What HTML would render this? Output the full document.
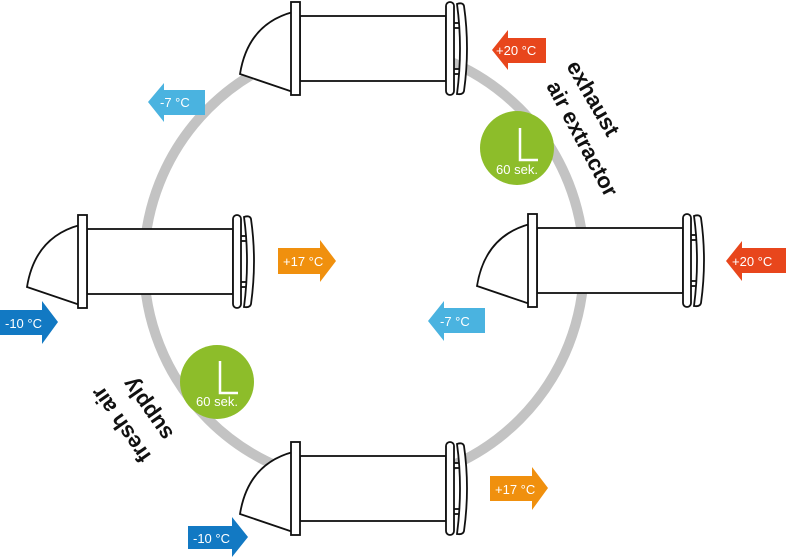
<!DOCTYPE html>
<html><head><meta charset="utf-8"><style>
html,body{margin:0;padding:0;background:#fff;}
svg{display:block;font-family:"Liberation Sans",sans-serif;}
.t{fill:#fff;font-size:13px;}
.lbl{font-weight:bold;font-size:22px;fill:#111;}
</style></head><body>
<svg width="786" height="560" viewBox="0 0 786 560">
<defs>
<g id="u" fill="#fff" stroke="#111" stroke-width="1.8">
  <path d="M53,10 Q8,22 0,72 L53,90 Z"/>
  <rect x="60" y="14" width="146" height="65"/>
  <rect x="51" y="0" width="9" height="93"/>
  <rect x="209" y="21" width="12" height="5"/>
  <rect x="209" y="67" width="12" height="5"/>
  <rect x="206" y="0" width="8" height="93" rx="4"/>
  <path d="M217,2 Q223,0 224,4 Q230,46 224,89 Q223,93 217,92 Q223,46 217,2 Z"/>
</g>
</defs>
<circle cx="364" cy="264" r="220" fill="none" stroke="#c3c3c3" stroke-width="10"/>
<use href="#u" x="240" y="2"/>
<use href="#u" x="27" y="215"/>
<use href="#u" x="477" y="214"/>
<use href="#u" x="240" y="442"/>
<g fill="#e8461c"><path d="M508,38 H546 V63 H508 V70 L492,50 L508,30 Z"/></g>
<text class="t" x="496" y="55">+20 °C</text>
<g fill="#4ab3e0"><path d="M164,90 H205 V115 H164 V122 L148,102 L164,83 Z"/></g>
<text class="t" x="160" y="107">-7 °C</text>
<g fill="#e8461c"><path d="M742,248 H786 V273 H742 V281 L726,261 L742,241 Z"/></g>
<text class="t" x="732" y="266">+20 °C</text>
<g fill="#4ab3e0"><path d="M444,308 H485 V333 H444 V341 L428,321 L444,301 Z"/></g>
<text class="t" x="440" y="326">-7 °C</text>
<g fill="#f0900e"><path d="M278,248 H320 V240 L336,261 L320,282 V274 H278 Z"/></g>
<text class="t" x="283" y="266">+17 °C</text>
<g fill="#1279c3"><path d="M0,310 H42 V301 L58,322 L42,344 V335 H0 Z"/></g>
<text class="t" x="5" y="328">-10 °C</text>
<g fill="#f0900e"><path d="M490,476 H532 V467 L548,488 L532,510 V501 H490 Z"/></g>
<text class="t" x="495" y="494">+17 °C</text>
<g fill="#1279c3"><path d="M188,526 H232 V517 L248,537 L232,557 V549 H188 Z"/></g>
<text class="t" x="193" y="543">-10 °C</text>
<g>
<circle cx="517" cy="148" r="37" fill="#8dbd2a"/>
<path d="M520,128 V160 H538" fill="none" stroke="#fff" stroke-width="2.5"/>
<text x="517" y="174" fill="#fff" font-size="13" text-anchor="middle">60 sek.</text>
<circle cx="217" cy="382" r="37" fill="#8dbd2a"/>
<path d="M220,361 V393 H238" fill="none" stroke="#fff" stroke-width="2.5"/>
<text x="217" y="406" fill="#fff" font-size="13" text-anchor="middle">60 sek.</text>
</g>
<text class="lbl" transform="translate(566,66) rotate(60)">exhaust</text>
<text class="lbl" transform="translate(546,86) rotate(62)">air extractor</text>
<text class="lbl" transform="translate(152,456) rotate(235)">fresh air</text>
<text class="lbl" transform="translate(174,434) rotate(235)">supply</text>
</svg>
</body></html>
